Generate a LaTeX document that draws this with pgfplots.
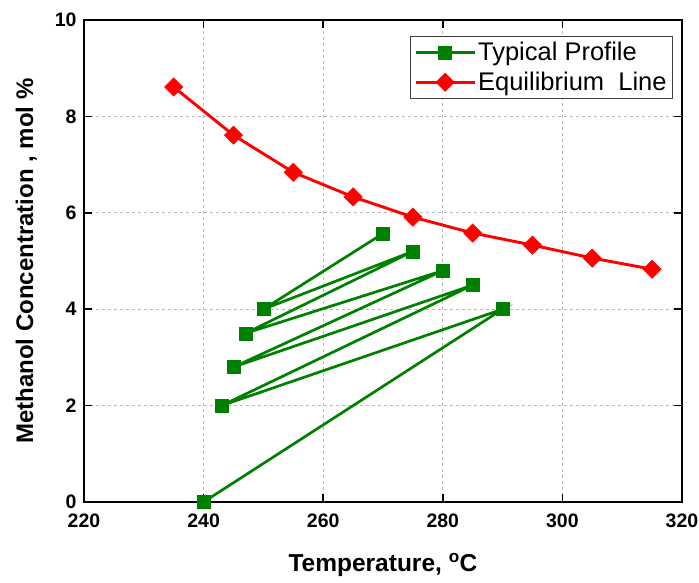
\documentclass[border=0pt]{standalone}
\usepackage{pgfplots}
\pgfplotsset{compat=1.18}
\usepackage{fontspec}
\setmainfont{Liberation Sans}
\definecolor{pgreen}{RGB}{0,128,0}
\begin{document}
\begin{tikzpicture}
\useasboundingbox (0,0) rectangle (699pt,582pt);
\begin{axis}[
  at={(84pt,80pt)}, anchor=south west,
  scale only axis, width=598pt, height=482pt,
  xmin=220, xmax=320, ymin=0, ymax=10,
  xtick={220,240,...,320}, ytick={0,2,...,10},
  tick align=inside, major tick length=8pt,
  grid=major, major grid style={gray!55, dashed, line width=0.7pt},
  axis line style={line width=1.5pt},
  every tick/.style={line width=1.5pt, black},
  ticklabel style={font=\fontsize{19.5}{22}\selectfont\bfseries},
  /pgf/number format/assume math mode=true,
  /pgf/number format/1000 sep={},
  xticklabel style={yshift=-8pt},
  yticklabel style={xshift=-4pt},
  xlabel={Temperature, \textsuperscript{o}C},
  ylabel={Methanol Concentration , mol \%},
  xlabel style={font=\fontsize{24.5}{28}\selectfont\bfseries, yshift=-19pt},
  ylabel style={font=\fontsize{24}{27}\selectfont\bfseries, yshift=11pt},
  legend style={at={(0.985,0.967)}, anchor=north east,
    font=\fontsize{25.5}{28}\selectfont, draw=black!75, line width=0.8pt,
    inner xsep=4pt, inner ysep=4pt, row sep=6pt, cells={anchor=west}},
  legend image code/.code={\draw[mark repeat=2,mark phase=2] plot coordinates {(0pt,0pt) (29.5pt,0pt) (59pt,0pt)};},
]
\addplot[pgreen, line width=2.7pt, mark=square*, mark size=6.5pt, mark options={solid, fill=pgreen, line width=0.5pt}]
coordinates {(240,0) (290,4.0) (243,2.0) (285,4.5) (245,2.8) (280,4.8) (247,3.5) (275,5.2) (250,4.0) (270,5.57)};
\addlegendentry{Typical Profile}
\addplot[red, line width=2.9pt, mark=square*, mark size=6.5pt, mark options={solid, fill=red, line width=0.5pt, rotate=45}]
coordinates {(235,8.61) (245,7.61) (255,6.84) (265,6.33) (275,5.91) (285,5.58) (295,5.33) (305,5.06) (315,4.83)};
\addlegendentry{Equilibrium\ \ Line}
\end{axis}
\end{tikzpicture}
\end{document}
